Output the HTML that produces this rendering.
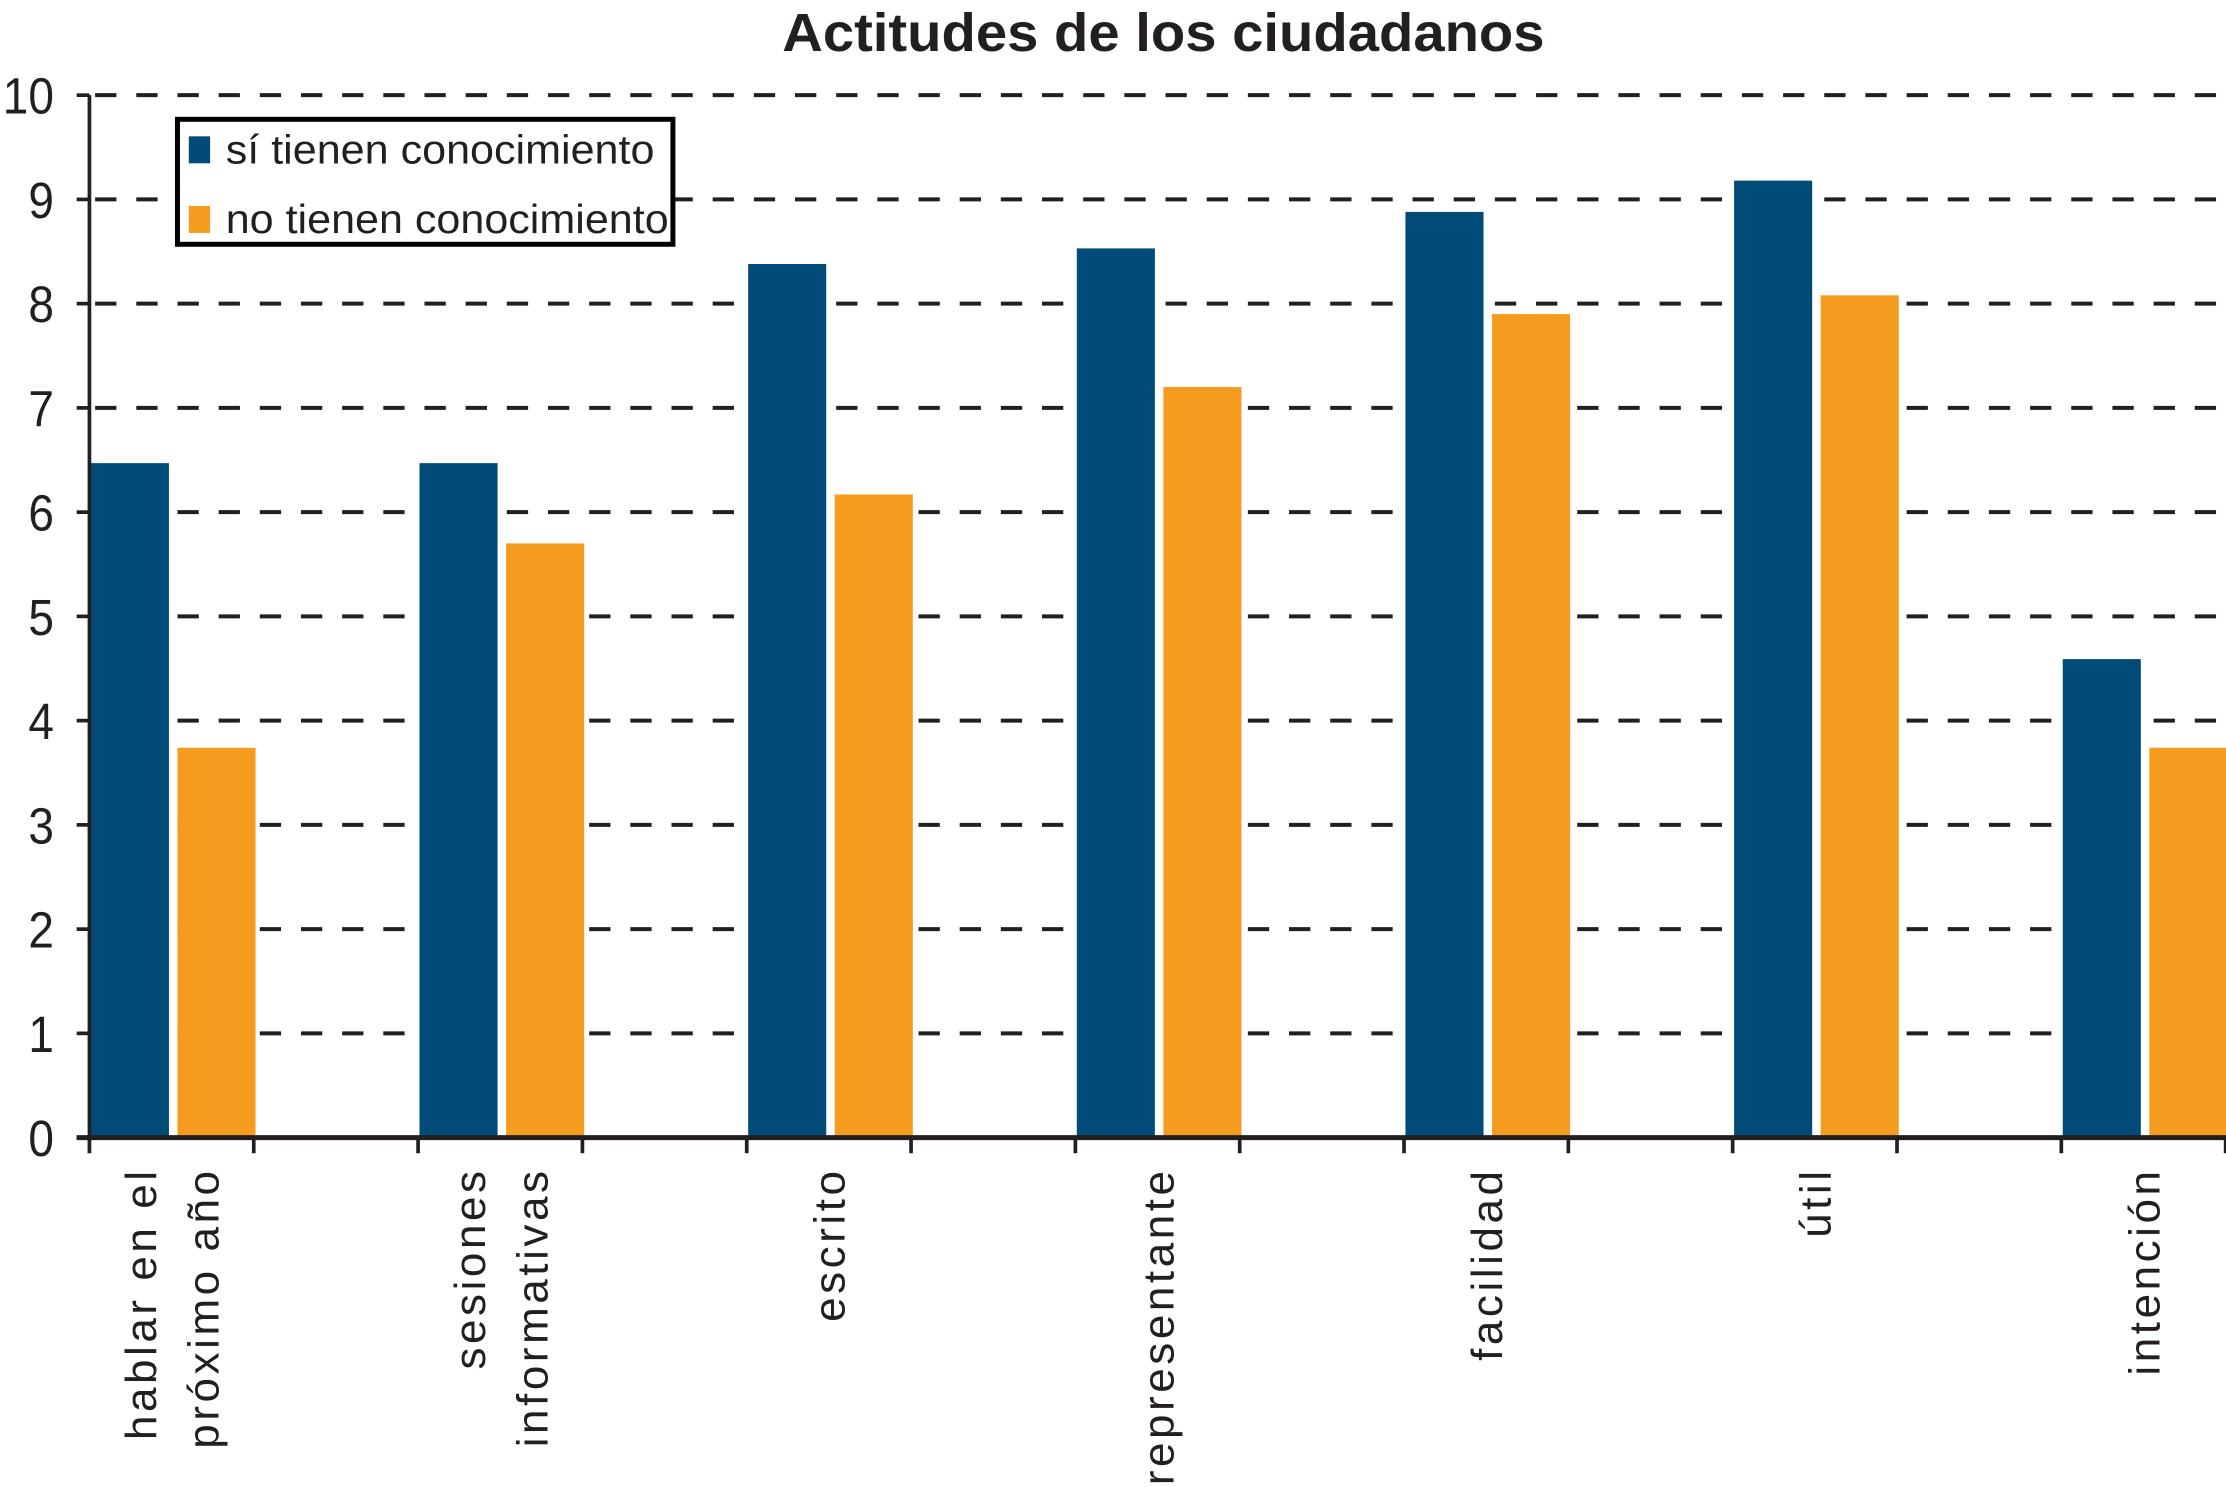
<!DOCTYPE html>
<html><head><meta charset="utf-8"><style>
html,body{margin:0;padding:0;background:#fff;}
svg{display:block;}
text{font-family:"Liberation Sans",Arial,sans-serif;fill:#231f20;}
</style></head><body>
<svg id="chart" width="2226" height="1487" viewBox="0 0 1568 1047" preserveAspectRatio="none" xmlns="http://www.w3.org/2000/svg">
<text x="551" y="36" font-size="38" font-weight="bold" textLength="537" lengthAdjust="spacingAndGlyphs">Actitudes de los ciudadanos</text>
<g id="grid"></g>
<g id="bars"></g>
<g id="axes"></g>
<g id="xlabels"></g>
<g>
<rect x="125" y="84" width="349" height="88" fill="#fff" stroke="#000" stroke-width="3.5"/>
<rect x="133" y="96" width="15" height="19" fill="#004b78"/>
<text x="159" y="115" font-size="29" textLength="302" lengthAdjust="spacingAndGlyphs">sí tienen conocimiento</text>
<rect x="133" y="145" width="15" height="19" fill="#f59c1e"/>
<text x="159" y="164" font-size="29" textLength="312" lengthAdjust="spacingAndGlyphs">no tienen conocimiento</text>
</g>
</svg>
<script>
const categories = [["hablar en el","próximo año"],["sesiones","informativas"],["escrito"],["representante"],["facilidad"],["útil"],["intención"]];
const siValues = [6.47, 6.47, 8.38, 8.53, 8.88, 9.18, 4.59];
const noValues = [3.74, 5.7, 6.17, 7.2, 7.9, 8.08, 3.74];
const yTicks = [0,1,2,3,4,5,6,7,8,9,10];

const NS = "http://www.w3.org/2000/svg";
const X0 = 63, Y0 = 801, YTOP = 67, XR = 1568, GROUP = 231.5, BW = 55, GAP = 6;
const yScale = v => Y0 - (v / 10) * (Y0 - YTOP);
const groupX = i => X0 + i * GROUP;
function mk(tag, attrs, parent){ const e = document.createElementNS(NS, tag); for (const k in attrs) e.setAttribute(k, attrs[k]); parent.appendChild(e); return e; }
const grid = document.getElementById('grid'), bars = document.getElementById('bars'), axes = document.getElementById('axes'), xl = document.getElementById('xlabels');

yTicks.forEach(t => {
  const y = yScale(t);
  if (t > 0) {
    const g = mk('line', {x1: X0+4, x2: XR, y1: y, y2: y, stroke: '#231f20', 'stroke-width': 2.8, 'stroke-dasharray': '15 14'}, grid);
    
    
  }
  const tk = mk('line', {x1: 54, x2: X0, y1: y, y2: y, stroke: '#231f20', 'stroke-width': 2.6}, axes);
  
  
  const lb = mk('text', {x: 0, y: 0, 'text-anchor': 'end', 'font-size': 36, transform: `translate(38,${y + 13}) scale(0.9,1)`}, axes);
  lb.textContent = t;
  
  
});

categories.forEach((c, i) => {
  const gx = groupX(i);
  const b1 = mk('rect', {x: gx + 1, y: yScale(siValues[i]), width: BW, height: Y0 - yScale(siValues[i]), fill: '#004b78'}, bars);
  
  
  const b2 = mk('rect', {x: gx + 1 + BW + GAP, y: yScale(noValues[i]), width: BW, height: Y0 - yScale(noValues[i]), fill: '#f59c1e'}, bars);
  
  
  [gx, gx + GROUP/2].forEach((tx, j) => {
    const t = mk('line', {x1: tx, x2: tx, y1: Y0, y2: 812, stroke: '#231f20', 'stroke-width': 2.6}, axes);
    
    
  });
  const center = gx + 58;
  const n = c.length;
  c.forEach((line, k) => {
    const cx = center + (k - (n - 1) / 2) * 44;
    const bx = cx + 11;
    const tx = mk('text', {x: 0, y: 0, 'text-anchor': 'end', 'font-size': 31, 'letter-spacing': 2.5, transform: `translate(${bx},822) rotate(-90)`}, xl);
    tx.textContent = line;
    
    
  });
});

const ya = mk('line', {x1: X0, x2: X0, y1: YTOP, y2: Y0 + 2, stroke: '#231f20', 'stroke-width': 2.6}, axes);


const xa = mk('line', {x1: 54, x2: XR, y1: Y0, y2: Y0, stroke: '#231f20', 'stroke-width': 3.5}, axes);


</script>
</body></html>
